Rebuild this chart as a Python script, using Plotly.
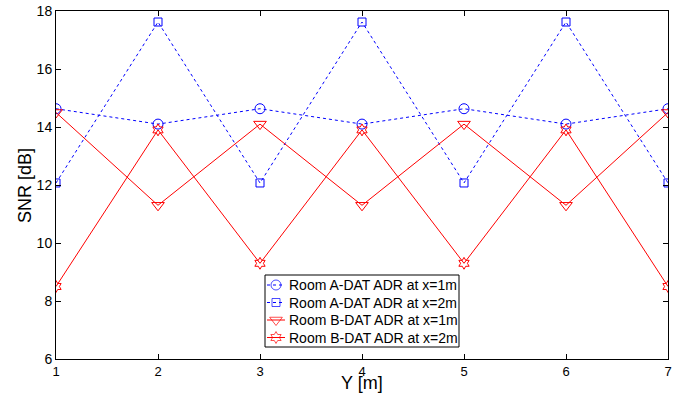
import plotly.graph_objects as go

y_pos = [1, 2, 3, 4, 5, 6, 7]
room_a_x1 = [14.63, 14.1, 14.63, 14.1, 14.63, 14.1, 14.63]
room_a_x2 = [12.07, 17.62, 12.07, 17.62, 12.07, 17.62, 12.07]
room_b_x1 = [14.5, 11.3, 14.1, 11.3, 14.1, 11.3, 14.5]
room_b_x2 = [8.5, 13.9, 9.3, 13.9, 9.3, 13.9, 8.5]

names = ["Room A-DAT ADR at x=1m", "Room A-DAT ADR at x=2m",
         "Room B-DAT ADR at x=1m", "Room B-DAT ADR at x=2m"]
x_ticks = [1, 2, 3, 4, 5, 6, 7]
y_ticks = [6, 8, 10, 12, 14, 16, 18]

blue = "#0000FF"
red = "#FF0000"
FONT = "Liberation Sans, Arial, sans-serif"

# plot area in pixels (for placing legend / titles)
L, R, T, B = 56, 668, 11, 359
W, H = R - L, B - T


def px(x):
    return (x - L) / W


def py(y):
    return (B - y) / H


fig = go.Figure()
series = [
    (room_a_x1, names[0], blue, "dot", "circle-open", 10),
    (room_a_x2, names[1], blue, "dot", "square-open", 8),
    (room_b_x1, names[2], red, "solid", "triangle-down-open", 11),
    (room_b_x2, names[3], red, "solid", "hexagram-open", 9),
]
for vals, nm, col, dash, sym, sz in series:
    fig.add_trace(go.Scatter(
        x=y_pos, y=vals, name=nm, mode="lines+markers",
        line=dict(color=col, width=1, dash=dash),
        marker=dict(symbol=sym, size=sz, color=col, line=dict(color=col, width=1)),
        showlegend=False,
    ))

# manual legend on an overlay axis spanning the plot area (0..1)
bx0, bx1, by0, by1 = px(265), px(459), py(347), py(275)
fig.add_trace(go.Scatter(
    x=[bx0, bx1, bx1, bx0, bx0], y=[by0, by0, by1, by1, by0],
    xaxis="x2", yaxis="y2", mode="lines", fill="toself", fillcolor="white",
    line=dict(color="black", width=1), hoverinfo="skip", showlegend=False,
))
row_y = [285, 302.5, 320, 337.5]
sx0, sxm, sx1 = px(267), px(276), px(285)
for (vals, nm, col, dash, sym, sz), ry in zip(series, row_y):
    fig.add_trace(go.Scatter(
        x=[sx0, sxm, sx1], y=[py(ry)] * 3, xaxis="x2", yaxis="y2",
        mode="lines+markers",
        line=dict(color=col, width=1, dash="solid" if col == red else "dot"),
        marker=dict(symbol=sym, size=[0, sz, 0], color=col, line=dict(color=col, width=1)),
        hoverinfo="skip", showlegend=False,
    ))
    fig.add_annotation(x=px(287), y=py(ry), xref="paper", yref="paper",
                       text=nm, showarrow=False, xanchor="left", yanchor="middle",
                       font=dict(family=FONT, size=14, color="black"))

axis_common = dict(
    showgrid=False, zeroline=False, showline=True, linecolor="black", linewidth=1,
    mirror="allticks", ticks="inside", ticklen=5, tickcolor="black",
    automargin=False,
)

fig.update_layout(
    width=695, height=394,
    margin=dict(l=L, r=695 - R, t=T, b=394 - B),
    paper_bgcolor="white", plot_bgcolor="white",
    showlegend=False,
    xaxis=dict(range=[1, 7], tickvals=x_ticks,
               tickfont=dict(family=FONT, size=13, color="black"), **axis_common),
    yaxis=dict(range=[6, 18], tickvals=y_ticks,
               tickfont=dict(family=FONT, size=14, color="black"), **axis_common),
    xaxis2=dict(range=[0, 1], overlaying="x", visible=False, fixedrange=True),
    yaxis2=dict(range=[0, 1], overlaying="y", visible=False, fixedrange=True),
)

fig.add_annotation(x=px(362), y=py(394), xref="paper", yref="paper", text="Y [m]",
                   showarrow=False, xanchor="center", yanchor="bottom", borderpad=0,
                   font=dict(family=FONT, size=18, color="black"))
fig.add_annotation(x=px(25), y=py(186), xref="paper", yref="paper", text="SNR [dB]",
                   showarrow=False, xanchor="center", yanchor="middle", textangle=-90,
                   font=dict(family=FONT, size=18, color="black"))

fig.write_html("out.html")
